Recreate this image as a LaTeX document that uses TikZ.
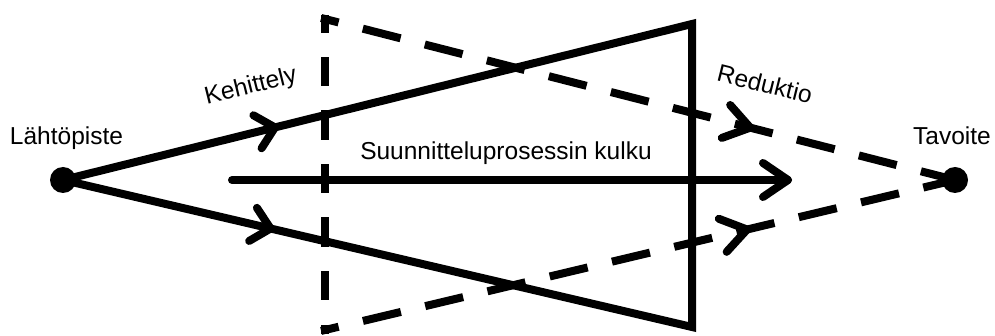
\documentclass[tikz,border=0pt]{standalone}
\usepackage{fontspec}
\setmainfont{Liberation Sans}
\usetikzlibrary{decorations.markings}
\tikzset{
  solidline/.style={line width=8pt, line join=miter},
  dashline/.style={line width=8pt, line cap=rect, dash pattern=on 31pt off 33pt, dash phase=21pt},
  vdashline/.style={line width=8pt, line cap=rect, dash pattern=on 21.5pt off 32pt, dash phase=11.5pt},
  chev/.style 2 args={decoration={markings, mark=at position #1 with {%
      \draw[solid, line width=8pt, line cap=round, line join=round] (-#2,17pt) -- (0pt,0pt) -- (-#2,-17pt);}},
      postaction={decorate}},
  lbl/.style={font=\fontsize{24.5}{29}\selectfont, inner sep=0pt},
  dot/.style={circle, fill=black, inner sep=0pt, minimum size=26pt}
}
\begin{document}
\begin{tikzpicture}[x=1pt, y=-1pt]
  \useasboundingbox (0,0) rectangle (995,336);
  % key points
  \node[dot] (start) at (63,180) {};
  \node[dot] (goal) at (955,180) {};
  \coordinate (T1) at (692,24);
  \coordinate (T2) at (692,327);
  \coordinate (D1) at (325,19);
  \coordinate (D2) at (325,330);
  \coordinate (m1) at (232,180);
  \coordinate (m2) at (788,180);
  % solid triangle (development)
  \draw[solidline] (start.center) -- (T1) -- (T2) -- (start.center);
  \path[chev={0.337}{18pt}] (start.center) -- (T1);
  \path[chev={0.33}{18pt}] (start.center) -- (T2);
  % dashed triangle (reduction)
  \draw[vdashline] (D1) -- (D2);
  \draw[dashline, chev={0.675}{25pt}] (D1) -- (goal.center);
  \draw[dashline, chev={0.67}{25pt}] (D2) -- (goal.center);
  % middle arrow
  \draw[line width=8pt, line cap=round, chev={1}{25pt}] (m1) -- (m2);
  % labels
  \node[lbl, anchor=base] (lstart) at (66.5,145) {Lähtöpiste};
  \node[lbl, anchor=base] (lgoal) at (952,145) {Tavoite};
  \node[lbl, anchor=base] (lmid) at (506,160) {Suunnitteluprosessin kulku};
  \node[lbl, rotate=14] (lkeh) at (251,87) {Kehittely};
  \node[lbl, rotate=-14] (lred) at (765,84) {Reduktio};
\end{tikzpicture}
\end{document}
